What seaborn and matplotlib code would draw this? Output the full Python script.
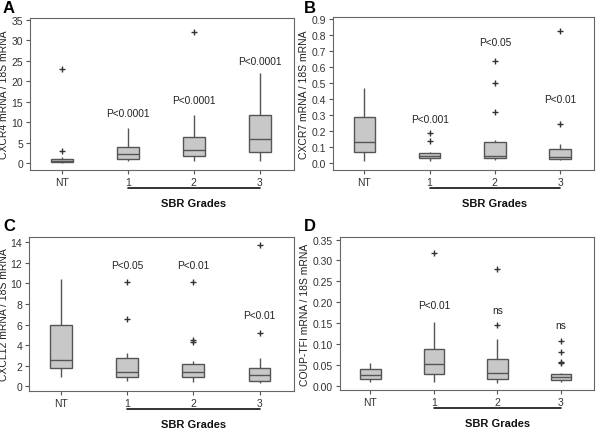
import matplotlib
matplotlib.use("Agg")
import matplotlib.pyplot as plt
import matplotlib.transforms as mtransforms
import seaborn as sns
import pandas as pd
import numpy as np

sns.set_theme(style="white")
plt.rcParams['font.family'] = ['Liberation Sans', 'DejaVu Sans']

groups = ["NT", "1", "2", "3"]

# box summaries per group: [whisker low, q1, median, q3, whisker high]
cxcr4_box = [[0.1, 0.3, 0.5, 1.0, 1.5], [0.5, 1.0, 2.3, 4.0, 8.5],
             [0.4, 1.8, 3.2, 6.4, 11.8], [0.5, 2.8, 6.0, 11.8, 22.0]]
cxcr4_out = [[2.9, 23.0], [], [32.0], []]
cxcr4_p = ["", "P<0.0001", "P<0.0001", "P<0.0001"]
cxcr4_py = [0, 12.2, 15.5, 24.9]

cxcr7_box = [[0.01, 0.07, 0.13, 0.285, 0.47], [0.015, 0.03, 0.045, 0.065, 0.07],
             [0.02, 0.03, 0.045, 0.13, 0.14], [0.02, 0.025, 0.035, 0.085, 0.115]]
cxcr7_out = [[], [0.135, 0.185], [0.32, 0.50, 0.635], [0.24, 0.825]]
cxcr7_p = ["", "P<0.001", "P<0.05", "P<0.01"]
cxcr7_py = [0, 0.277, 0.755, 0.398]

cxcl12_box = [[0.9, 1.8, 2.6, 6.0, 10.4], [0.5, 0.9, 1.4, 2.8, 3.2],
              [0.4, 0.9, 1.4, 2.2, 2.5], [0.3, 0.55, 1.1, 1.8, 2.8]]
cxcl12_out = [[], [6.5, 10.1], [4.3, 4.5, 10.1], [5.2, 13.7]]
cxcl12_p = ["", "P<0.05", "P<0.01", "P<0.01"]
cxcl12_py = [0, 11.8, 11.8, 6.9]

coup_box = [[0.008, 0.017, 0.027, 0.041, 0.055], [0.008, 0.029, 0.052, 0.087, 0.153],
            [0.007, 0.017, 0.031, 0.063, 0.113], [0.01, 0.014, 0.021, 0.029, 0.030]]
coup_out = [[], [0.318], [0.145, 0.279], [0.055, 0.058, 0.080, 0.107]]
coup_p = ["", "P<0.01", "ns", "ns"]
coup_py = [0, 0.194, 0.182, 0.146]

panels = [
    dict(letter="A", box=cxcr4_box, out=cxcr4_out, p=cxcr4_p, py=cxcr4_py,
         ylabel="CXCR4 mRNA / 18S mRNA", yticks=np.arange(0, 36, 5), ylim=(-1.7, 35.5),
         fmt="{:.0f}", px=(30, 294, 19, 171), labx=9),
    dict(letter="B", box=cxcr7_box, out=cxcr7_out, p=cxcr7_p, py=cxcr7_py,
         ylabel="CXCR7 mRNA / 18S mRNA", yticks=np.round(np.arange(0, 0.91, 0.1), 1), ylim=(-0.044, 0.91),
         fmt="{:.1f}", px=(333, 594, 18, 171), labx=309),
    dict(letter="C", box=cxcl12_box, out=cxcl12_out, p=cxcl12_p, py=cxcl12_py,
         ylabel="CXCL12 mRNA / 18S mRNA", yticks=np.arange(0, 15, 2), ylim=(-0.45, 14.5),
         fmt="{:.0f}", px=(29, 294, 238, 392), labx=9),
    dict(letter="D", box=coup_box, out=coup_out, p=coup_p, py=coup_py,
         ylabel="COUP-TFI mRNA / 18S mRNA", yticks=np.round(np.arange(0, 0.351, 0.05), 2), ylim=(-0.01, 0.356),
         fmt="{:.2f}", px=(340, 594, 238, 391), labx=310),
]

W, H = 600, 431
fig = plt.figure(figsize=(W / 100, H / 100), dpi=100)
fig.patch.set_facecolor("white")

edge = "#555555"
for pn in panels:
    l, r, t, b = pn["px"]
    ax = fig.add_axes([l / W, 1 - b / H, (r - l) / W, (b - t) / H])
    rows = []
    for g, vals in zip(groups, pn["box"]):
        for v in vals:
            rows.append((g, v))
    df = pd.DataFrame(rows, columns=["group", "value"])
    sns.boxplot(data=df, x="group", y="value", order=groups, whis=(0, 100), width=0.33,
                color="#c8c8c8", linecolor=edge, linewidth=1.0, showcaps=False,
                saturation=1, ax=ax)
    orows = [(g, v) for g, vals in zip(groups, pn["out"]) for v in vals]
    if orows:
        odf = pd.DataFrame(orows, columns=["group", "value"])
        odf["xpos"] = odf["group"].map({g: i for i, g in enumerate(groups)})
        sns.scatterplot(data=odf, x="xpos", y="value", marker="+", s=22, color="#333333",
                        linewidth=1.0, ax=ax, legend=False)
    for i, (lab, y) in enumerate(zip(pn["p"], pn["py"])):
        if lab:
            ax.text(i, y, lab, ha="center", va="center", fontsize=7.3, color="#222222")
    ax.set_xlim(-0.48, 3.52)
    ax.set_ylim(*pn["ylim"])
    ax.set_yticks(pn["yticks"])
    ax.set_yticklabels([pn["fmt"].format(v) for v in pn["yticks"]], fontsize=7.5, color="#333333")
    ax.set_xticks(range(4))
    ax.set_xticklabels(groups, fontsize=7.5, color="#333333")
    ax.set_xlabel("")
    ax.set_ylabel(pn["ylabel"], fontsize=7.5, color="#222222")
    ax.yaxis.set_label_coords((pn["labx"] - l) / (r - l), 0.5)
    ax.tick_params(axis="both", length=3, width=0.8, color="#555555", pad=2, direction="out",
                   left=True, bottom=True)
    for s in ax.spines.values():
        s.set_color("#666666")
        s.set_linewidth(0.8)
    trans = mtransforms.blended_transform_factory(ax.transData, ax.transAxes)
    ax.plot([1, 3], [-0.12, -0.12], color="#111111", lw=1.2, transform=trans, clip_on=False)
    ax.text(2, -0.215, "SBR Grades", transform=trans, ha="center", va="center",
            fontsize=8, fontweight="bold", color="#111111")
    lx = 3 if pn["letter"] in "AC" else 304
    ly = 1 if pn["letter"] in "AB" else 219
    fig.text(lx / W, 1 - ly / H, pn["letter"], fontsize=12, fontweight="bold",
             ha="left", va="top", color="#000000")

fig.savefig("out.png", dpi=100)
